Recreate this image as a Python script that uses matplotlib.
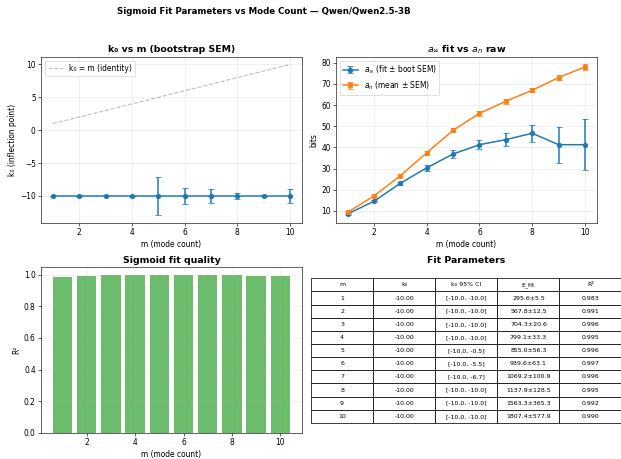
#!/usr/bin/env python
"""Parametros do ajuste sigmoide em funcao do numero de modos (m) para Qwen2.5-3B."""
import matplotlib

matplotlib.use("Agg")
import matplotlib.pyplot as plt
import numpy as np

MODEL = "Qwen/Qwen2.5-3B"

m_vals = [1, 2, 3, 4, 5, 6, 7, 8, 9, 10]

# k0 (ponto de inflexao) e SEM bootstrap
k0 = [-10.0, -10.0, -10.0, -10.0, -10.0, -10.0, -10.0, -10.0, -10.0, -10.0]
k0_sem = [0.0, 0.0, 0.0, 0.0, 2.9, 1.2, 1.1, 0.5, 0.0, 1.0]
k0_ci = ["[-10.0, -10.0]", "[-10.0, -10.0]", "[-10.0, -10.0]", "[-10.0, -10.0]",
         "[-10.0, -0.5]", "[-10.0, -5.5]", "[-10.0, -6.7]", "[-10.0, -10.0]",
         "[-10.0, -10.0]", "[-10.0, -10.0]"]

# a_inf (assintota do ajuste) vs a_n (media bruta), em bits
a_inf = [8.6, 14.6, 23.1, 30.4, 36.9, 41.3, 43.7, 46.7, 41.3, 41.3]
a_inf_sem = [0.5, 0.5, 0.6, 1.3, 2.1, 2.1, 3.1, 3.9, 8.5, 12.1]
a_n = [9.4, 17.1, 26.7, 37.5, 48.1, 56.1, 61.8, 67.0, 73.0, 78.0]
a_n_sem = [0.6, 0.7, 0.7, 0.9, 1.0, 1.1, 1.1, 1.0, 1.1, 1.2]

E_fit = ["295.6±5.5", "567.8±12.5", "704.3±20.6", "799.1±33.3", "855.0±56.3",
         "939.6±63.1", "1069.2±100.9", "1137.9±128.5", "1563.3±365.3", "1807.4±577.9"]
r2 = [0.983, 0.991, 0.996, 0.995, 0.996, 0.997, 0.996, 0.995, 0.992, 0.990]

fig, axes = plt.subplots(2, 2, figsize=(11.5, 8.5), dpi=54)
fig.subplots_adjust(left=0.066, right=0.961, top=0.876, bottom=0.057,
                    wspace=0.13, hspace=0.27)
fig.suptitle(f"Sigmoid Fit Parameters vs Mode Count — {MODEL}",
             fontsize=11.5, fontweight="bold", x=0.425, y=0.985)

# k0 vs m
ax = axes[0, 0]
ax.errorbar(m_vals, k0, yerr=k0_sem, fmt="o-", color="tab:blue",
            capsize=4, lw=2, ms=6)
ax.plot(m_vals, m_vals, "--", color="gray", alpha=0.5, label="k₀ = m (identity)")
ax.set_xlabel("m (mode count)")
ax.set_ylabel("k₀ (inflection point)")
ax.set_title("k₀ vs m (bootstrap SEM)", fontsize=12.5, fontweight="bold")
ax.legend(loc="upper left")
ax.grid(True, alpha=0.3)

# a_inf vs a_n
ax = axes[0, 1]
ax.errorbar(m_vals, a_inf, yerr=a_inf_sem, fmt="o-", color="tab:blue",
            capsize=4, lw=2, ms=6, label=r"$a_\infty$ (fit ± boot SEM)")
ax.errorbar(m_vals, a_n, yerr=a_n_sem, fmt="s-", color="tab:orange",
            capsize=4, lw=2, ms=6, label=r"$a_n$ (mean ± SEM)")
ax.set_xlabel("m (mode count)")
ax.set_ylabel("bits")
ax.set_title(r"$a_\infty$ fit vs $a_n$ raw", fontsize=12.5, fontweight="bold")
ax.legend(loc="upper left")
ax.grid(True, alpha=0.3)

# qualidade do ajuste
ax = axes[1, 0]
ax.bar(m_vals, r2, color="tab:green", alpha=0.7)
ax.set_xlabel("m (mode count)")
ax.set_ylabel("R²")
ax.set_title("Sigmoid fit quality", fontsize=12.5, fontweight="bold")
ax.grid(True, alpha=0.3)

# tabela
ax = axes[1, 1]
ax.axis("off")
rows = [[str(m), f"{k:.2f}", ci, e, f"{r:.3f}"]
        for m, k, ci, e, r in zip(m_vals, k0, k0_ci, E_fit, r2)]
tbl = ax.table(cellText=rows, colLabels=["m", "k₀", "k₀ 95% CI", "E_fit", "R²"],
               cellLoc="center", bbox=[-0.095, 0.06, 1.19, 0.873])
tbl.auto_set_font_size(False)
tbl.set_fontsize(8.4)
ax.set_title("Fit Parameters", fontsize=12.5, fontweight="bold")

fig.savefig("out.png", dpi=54)
